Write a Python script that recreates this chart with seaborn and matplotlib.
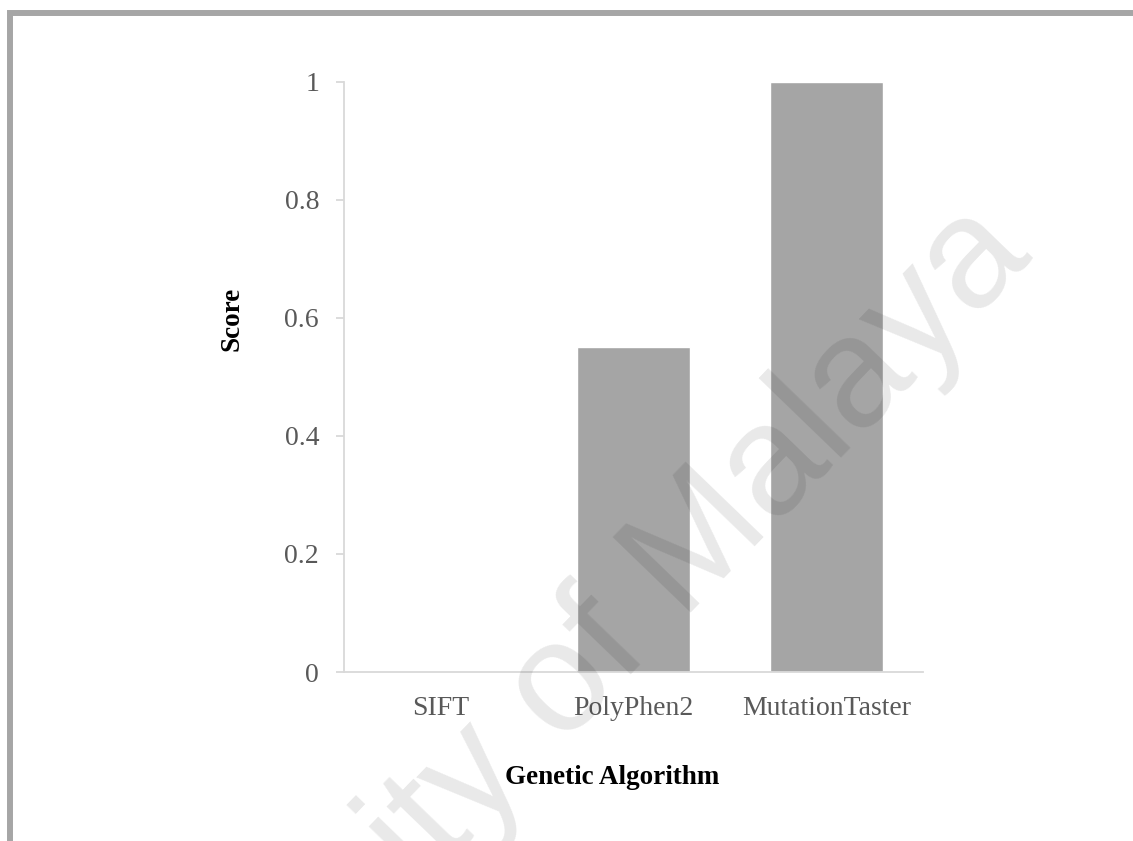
import matplotlib
matplotlib.use("Agg")
import matplotlib.pyplot as plt
from matplotlib.patches import Rectangle
import pandas as pd
import seaborn as sns

# Scores per prediction tool
tools = ["SIFT", "PolyPhen2", "MutationTaster"]
scores = [0.0, 0.55, 1.0]
ytick_values = [0, 0.2, 0.4, 0.6, 0.8, 1.0]
ytick_labels = ["0", "0.2", "0.4", "0.6", "0.8", "1"]

W, H, DPI = 1133, 841, 100
sns.set_theme(style="white")
plt.rcParams["font.family"] = ["Liberation Serif", "DejaVu Serif"]

fig = plt.figure(figsize=(W / DPI, H / DPI), dpi=DPI)
fig.patch.set_facecolor("white")

def px_x(x):
    return x / W

def px_y(y):
    return 1 - y / H

# plot area in pixel terms
left, right, top, bottom = 344, 923, 81.5, 672
ax = fig.add_axes([px_x(left), px_y(bottom), px_x(right - left), (bottom - top) / H])

df = pd.DataFrame({"tool": tools, "score": scores})
sns.barplot(data=df, x="tool", y="score", color="#a5a5a5", width=0.59,
            saturation=1, ax=ax, zorder=2)

ax.set_xlim(-0.5, len(tools) - 0.5)
ax.set_ylim(0, 1)
ax.set_yticks(ytick_values)
ax.set_yticklabels(ytick_labels)
ax.set_xlabel("")
ax.set_ylabel("")

axis_grey = "#d9d9d9"
for side in ["top", "right"]:
    ax.spines[side].set_visible(False)
for side in ["left", "bottom"]:
    ax.spines[side].set_color(axis_grey)
    ax.spines[side].set_linewidth(1.3)
    ax.spines[side].set_zorder(3)

ax.tick_params(axis="y", length=6, width=1.3, color=axis_grey, pad=12,
               labelsize=20, labelcolor="#595959", left=True)
ax.tick_params(axis="x", length=0, pad=17, labelsize=20, labelcolor="#595959")

# axis titles
fig.text(px_x(232), px_y(319), "Score", rotation=90, ha="center", va="center",
         fontsize=19.5, fontweight="bold", color="black")
fig.text(px_x(612), px_y(778), "Genetic Algorithm", ha="center", va="center",
         fontsize=19.5, fontweight="bold", color="black")

# page frame
fig.patches.append(Rectangle((px_x(10), px_y(H + 50)), px_x(W + 50), (H + 50 - 13) / H,
                             transform=fig.transFigure, fill=False,
                             edgecolor="#a6a6a6", linewidth=4.3, zorder=5))

# repository watermark
fig.text(px_x(52), px_y(1274), "University of Malaya", rotation=46,
         rotation_mode="anchor", ha="left", va="baseline",
         fontsize=113, family=["Liberation Sans", "DejaVu Sans"],
         color="black", alpha=0.09, zorder=10)

fig.savefig("out.png", dpi=DPI)
